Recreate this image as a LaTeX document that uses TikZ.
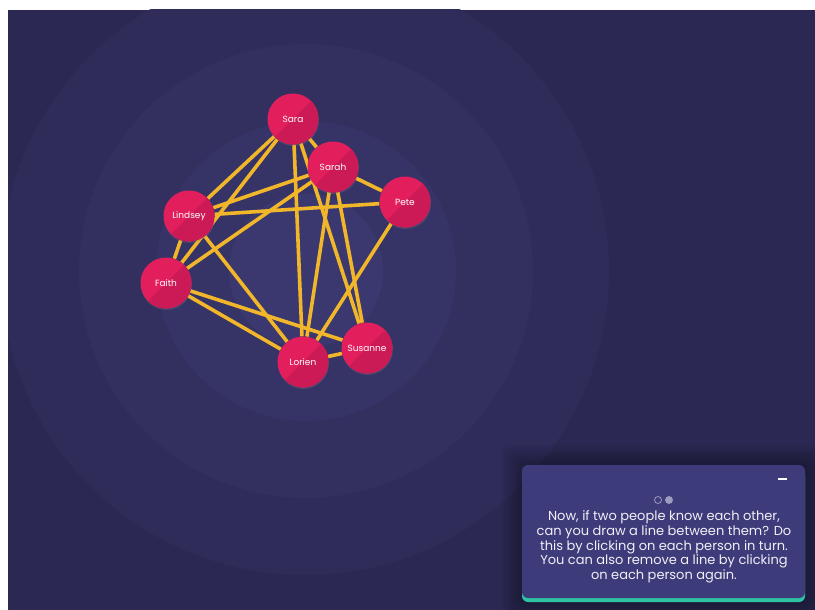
\documentclass[tikz,border=0pt]{standalone}
\usepackage{fontspec}
\setmainfont{Poppins}
\usetikzlibrary{positioning,shadows}
\definecolor{bgnavy}{HTML}{2B2953}
\definecolor{ringone}{HTML}{2F2C5A}
\definecolor{ringtwo}{HTML}{333060}
\definecolor{ringthree}{HTML}{363467}
\definecolor{ringfour}{HTML}{3A386F}
\definecolor{pinklight}{HTML}{E21F5C}
\definecolor{pinkdark}{HTML}{CB1A55}
\definecolor{linkyellow}{HTML}{F1B62A}
\definecolor{panelblue}{HTML}{3D3B79}
\definecolor{panelteal}{HTML}{2FC3A6}
\definecolor{paneltext}{HTML}{F1EFF6}
\definecolor{dotgrey}{HTML}{9D9BC0}
\pgfdeclarelayer{back}
\pgfdeclarelayer{links}

\begin{document}
\begin{tikzpicture}[
    x=1pt, y=-1pt,
    person/.style={
        circle,
        fill=pinklight,
        minimum size=51pt,
        inner sep=0pt,
        text=white,
        font=\fontsize{9}{10}\selectfont,
        path picture={\fill[pinkdark] (path picture bounding box.north east)
            -- (path picture bounding box.south west)
            -- (path picture bounding box.south east) -- cycle;},
        drop shadow={opacity=0.25, shadow xshift=0.5pt, shadow yshift=-1.5pt}
    },
    link/.style={draw=linkyellow, line width=3.6pt},
    panel/.style={
        rounded corners=6pt,
        minimum width=283pt,
        minimum height=133pt,
        inner sep=0pt
    },
    dot/.style={
        circle,
        draw=dotgrey,
        line width=0.8pt,
        minimum size=7pt,
        inner sep=0pt
    }
]
\pgfsetlayers{back,links,main}

\useasboundingbox (0,0) rectangle (815,610);

\begin{pgfonlayer}{back}
\fill[white] (0,0) rectangle (815,610);
\begin{scope}
\clip (8,10) rectangle (815,610);
\fill[bgnavy] (8,10) rectangle (815,610);
\fill[ringone] (305,271) circle[radius=304];
\fill[ringtwo] (306,271) circle[radius=227];
\fill[ringthree] (306,271) circle[radius=150];
\fill[ringfour] (306,271) circle[radius=77];
\foreach \k in {3,6,...,21}
    \fill[black, opacity=0.045, rounded corners=8pt]
        (522-\k,465-\k) rectangle (805+\k,602+\k);
\end{scope}
\end{pgfonlayer}

\node[person] (sara) at (293,119) {Sara};
\node[person] (sarah) at (333,167) {Sarah};
\node[person] (pete) at (405,202) {Pete};
\node[person] (lindsey) at (189,216) {Lindsey};
\node[person] (faith) at (166,283) {Faith};
\node[person] (lorien) at (303,362) {Lorien};
\node[person] (susanne) at (367,348) {Susanne};

\begin{pgfonlayer}{links}
\draw[link] (sara) -- (sarah);
\draw[link] (sara) -- (lindsey);
\draw[link] (sara) -- (faith);
\draw[link] (sara) -- (lorien);
\draw[link] (sara) -- (susanne);
\draw[link] (sarah) -- (lindsey);
\draw[link] (sarah) -- (faith);
\draw[link] (sarah) -- (pete);
\draw[link] (sarah) -- (lorien);
\draw[link] (sarah) -- (susanne);
\draw[link] (pete) -- (lindsey);
\draw[link] (pete) -- (lorien);
\draw[link] (lindsey) -- (faith);
\draw[link] (lindsey) -- (lorien);
\draw[link] (faith) -- (lorien);
\draw[link] (faith) -- (susanne);
\draw[link] (lorien) -- (susanne);
\end{pgfonlayer}

\node[panel, fill=panelteal] (panelbar) at (663.5,535.5) {};
\node[panel, fill=panelblue] (panel) at (663.5,531.5) {};

\node[fill=white, minimum width=9pt, minimum height=2pt, inner sep=0pt] (minimize) at (782.5,479) {};
\node[dot] (dotone) at (658,500) {};
\node[dot, fill=dotgrey] (dottwo) at (669,500) {};

\node[text=paneltext, align=center, font=\fontsize{13}{14.7}\selectfont] (hint) at (664,547)
{Now, if two people know each other,\\can you draw a line between them? Do\\this by clicking on each person in turn.\\You can also remove a line by clicking\\on each person again.};

\end{tikzpicture}
\end{document}
